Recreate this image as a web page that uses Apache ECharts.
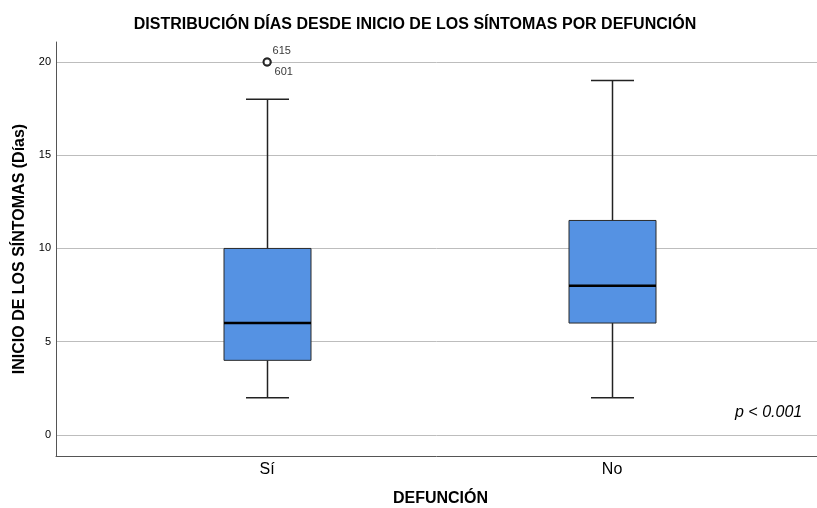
<!DOCTYPE html>
<html>
<head>
<meta charset="utf-8">
<script src="https://cdn.jsdelivr.net/npm/echarts@6/dist/echarts.min.js"></script>
<style>html,body{margin:0;padding:0;background:#fff}#c{width:817px;height:508px}</style>
</head>
<body>
<div id="c"></div>
<script>
const categories = ['Sí', 'No'];
const categoryPos = [1, 2];
// [min, Q1, median, Q3, max]
const boxStats = [
  [2, 4, 6, 10, 18],
  [2, 6, 8, 11.5, 19]
];
const outliers = [[1, 20, '615'], [1, 20, '601']];
const yTicks = [0, 5, 10, 15, 20];
const pText = 'p < 0.001';

const FONT = '"Liberation Sans", Arial, sans-serif';
const boxData = boxStats.map((s, i) => [categoryPos[i]].concat(s));

const chart = echarts.init(document.getElementById('c'), null, {renderer: 'canvas'});
chart.setOption({
  animation: false,
  backgroundColor: '#fff',
  title: {
    text: 'DISTRIBUCIÓN DÍAS DESDE INICIO DE LOS SÍNTOMAS POR DEFUNCIÓN',
    left: 410, top: 12, textAlign: 'center',
    textStyle: {fontFamily: FONT, fontSize: 16, fontWeight: 'bold', color: '#000'}
  },
  grid: {left: 56, right: 0, top: 42, bottom: 52, containLabel: false, outerBoundsMode: 'none'},
  xAxis: {
    type: 'value', min: 0.388, max: 2.594,
    name: 'DEFUNCIÓN', nameLocation: 'middle', nameGap: 35,
    nameTextStyle: {fontFamily: FONT, fontSize: 16, fontWeight: 'bold', color: '#000', padding: [0, 0, 0, 8]},
    axisLine: {show: true, onZero: false, lineStyle: {color: '#555', width: 1}},
    axisTick: {show: false},
    splitLine: {show: false},
    axisLabel: {
      customValues: categoryPos, margin: 6,
      fontFamily: FONT, fontSize: 16, color: '#000',
      formatter: v => categories[categoryPos.indexOf(v)] || ''
    }
  },
  yAxis: {
    type: 'value', min: -1.13, max: 21.07,
    name: 'INICIO DE LOS SÍNTOMAS (Días)', nameLocation: 'middle', nameGap: 28,
    nameTextStyle: {fontFamily: FONT, fontSize: 16, fontWeight: 'bold', color: '#000'},
    axisLine: {show: true, onZero: false, lineStyle: {color: '#555', width: 1}},
    axisTick: {show: false},
    splitLine: {show: true, showMinLine: false, showMaxLine: false, lineStyle: {color: '#bdbdbd', width: 1}},
    axisLabel: {
      customValues: yTicks, margin: 5,
      fontFamily: FONT, fontSize: 11, color: '#000'
    }
  },
  series: [
    {
      type: 'custom',
      data: boxData,
      encode: {x: 0, y: [1, 2, 3, 4, 5]},
      renderItem: function (params, api) {
        const x = api.value(0);
        const lo = api.coord([x, api.value(1)]);
        const q1 = api.coord([x, api.value(2)]);
        const md = api.coord([x, api.value(3)]);
        const q3 = api.coord([x, api.value(4)]);
        const hi = api.coord([x, api.value(5)]);
        const bw = 87, cw = 43;
        const cx = Math.round(lo[0]) + 0.5;
        const lineStyle = {stroke: '#222', lineWidth: 1.5};
        return {
          type: 'group',
          children: [
            {type: 'line', shape: {x1: cx, y1: lo[1], x2: cx, y2: q1[1]}, style: lineStyle},
            {type: 'line', shape: {x1: cx, y1: q3[1], x2: cx, y2: hi[1]}, style: lineStyle},
            {type: 'line', shape: {x1: cx - cw / 2, y1: lo[1], x2: cx + cw / 2, y2: lo[1]}, style: lineStyle},
            {type: 'line', shape: {x1: cx - cw / 2, y1: hi[1], x2: cx + cw / 2, y2: hi[1]}, style: lineStyle},
            {type: 'rect', shape: {x: cx - bw / 2, y: q3[1], width: bw, height: q1[1] - q3[1]},
              style: {fill: '#5592e3', stroke: '#2a2a2a', lineWidth: 1}},
            {type: 'line', shape: {x1: cx - bw / 2, y1: md[1], x2: cx + bw / 2, y2: md[1]},
              style: {stroke: '#000', lineWidth: 2.5}}
          ]
        };
      }
    },
    {
      type: 'scatter',
      data: outliers.map((o, i) => ({
        value: [o[0], o[1]],
        label: {
          show: true, formatter: o[2], position: 'right', distance: 1,
          offset: i === 0 ? [0, -10.5] : [2, 10],
          fontFamily: FONT, fontSize: 11, color: '#000'
        }
      })),
      symbol: 'emptyCircle', symbolSize: 7,
      itemStyle: {color: '#111', borderColor: '#111', borderWidth: 1.5},
      z: 5
    }
  ],
  graphic: [
    {
      type: 'text', left: 735, top: 405,
      style: {text: pText, fontFamily: FONT, fontSize: 16, fontStyle: 'italic', fill: '#000'}
    }
  ]
});
</script>
</body>
</html>
